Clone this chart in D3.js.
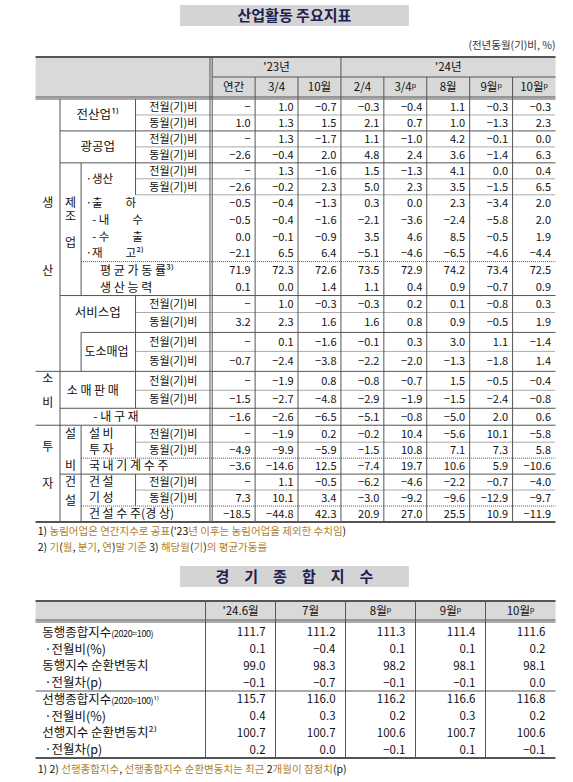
<!DOCTYPE html>
<html><head><meta charset="utf-8">
<script src="https://cdn.jsdelivr.net/npm/d3@7"></script>
<style>body{margin:0;background:#fff}text{font-family:"Noto Sans CJK KR",sans-serif}</style>
</head><body><svg id="c" width="573" height="782"></svg>
<script>
// ---------- data ----------
const colGroups1 = [["'23년",0,3],["'24년",3,8]];
const cols1 = ["연간","3/4","10월","2/4","3/4ᵖ","8월","9월ᵖ","10월ᵖ"];
const rowsMain = ["전산업¹⁾","","광공업","","·생산","","·출　　하","- 내　　수","- 수　　출","·재　　고²⁾","평 균 가 동 률³⁾","생 산 능 력","서비스업","","도소매업","","소 매 판 매","","- 내 구 재","설 비","투 자","국 내 기 계 수 주","건 설","기 성","건 설 수 주(경 상)"];
const rowsSub = ["전월(기)비","동월(기)비","전월(기)비","동월(기)비","전월(기)비","동월(기)비","","","","","","","전월(기)비","동월(기)비","전월(기)비","동월(기)비","전월(기)비","동월(기)비","","전월(기)비","동월(기)비","","전월(기)비","동월(기)비",""];
const values1 = [
["-","1.0","-0.7","-0.3","-0.4","1.1","-0.3","-0.3"],
["1.0","1.3","1.5","2.1","0.7","1.0","-1.3","2.3"],
["-","1.3","-1.7","1.1","-1.0","4.2","-0.1","0.0"],
["-2.6","-0.4","2.0","4.8","2.4","3.6","-1.4","6.3"],
["-","1.3","-1.6","1.5","-1.3","4.1","0.0","0.4"],
["-2.6","-0.2","2.3","5.0","2.3","3.5","-1.5","6.5"],
["-0.5","-0.4","-1.3","0.3","0.0","2.3","-3.4","2.0"],
["-0.5","-0.4","-1.6","-2.1","-3.6","-2.4","-5.8","2.0"],
["0.0","-0.1","-0.9","3.5","4.6","8.5","-0.5","1.9"],
["-2.1","6.5","6.4","-5.1","-4.6","-6.5","-4.6","-4.4"],
["71.9","72.3","72.6","73.5","72.9","74.2","73.4","72.5"],
["0.1","0.0","1.4","1.1","0.4","0.9","-0.7","0.9"],
["-","1.0","-0.3","-0.3","0.2","0.1","-0.8","0.3"],
["3.2","2.3","1.6","1.6","0.8","0.9","-0.5","1.9"],
["-","0.1","-1.6","-0.1","0.3","3.0","1.1","-1.4"],
["-0.7","-2.4","-3.8","-2.2","-2.0","-1.3","-1.8","1.4"],
["-","-1.9","0.8","-0.8","-0.7","1.5","-0.5","-0.4"],
["-1.5","-2.7","-4.8","-2.9","-1.9","-1.5","-2.4","-0.8"],
["-1.6","-2.6","-6.5","-5.1","-0.8","-5.0","2.0","0.6"],
["-","-1.9","0.2","-0.2","10.4","-5.6","10.1","-5.8"],
["-4.9","-9.9","-5.9","-1.5","10.8","7.1","7.3","5.8"],
["-3.6","-14.6","12.5","-7.4","19.7","10.6","5.9","-10.6"],
["-","1.1","-0.5","-6.2","-4.6","-2.2","-0.7","-4.0"],
["7.3","10.1","3.4","-3.0","-9.2","-9.6","-12.9","-9.7"],
["-18.5","-44.8","42.3","20.9","27.0","25.5","10.9","-11.9"]];
const cols2 = ["'24.6월","7월","8월ᵖ","9월ᵖ","10월ᵖ"];
const rows2 = [["동행종합지수","(2020=100)"],["·전월비(%)",""],["동행지수 순환변동치",""],["·전월차(p)",""],["선행종합지수","(2020=100)¹⁾"],["·전월비(%)",""],["선행지수 순환변동치²⁾",""],["·전월차(p)",""]];
const values2 = [
["111.7","111.2","111.3","111.4","111.6"],
["0.1","-0.4","0.1","0.1","0.2"],
["99.0","98.3","98.2","98.1","98.1"],
["-0.1","-0.7","-0.1","-0.1","0.0"],
["115.7","116.0","116.2","116.6","116.8"],
["0.4","0.3","0.2","0.3","0.2"],
["100.7","100.7","100.6","100.7","100.6"],
["0.2","0.0","-0.1","0.1","-0.1"]];

// ---------- layout ----------
const K = 1.111;
const svg = d3.select("#c");
const GR="#555", HB="#d9d9d9", FS=11.5;
const rowW = [16,16,16,16,16,16,17,17,16,17,18,16,17,20,19,20,19,18,17,17,16,16,16,16,16];
const cum=[0]; rowW.forEach(w=>cum.push(cum[cum.length-1]+w));
const ys = d3.scaleLinear().domain([0,cum[cum.length-1]]).range([99,522]);
const rtop=i=>ys(cum[i]), bot=i=>ys(cum[i+1]), mid=i=>(rtop(i)+bot(i))/2;
const x1 = d3.scaleBand().domain(d3.range(8)).range([191,500]);
const line=(xa,ya,xb,yb,o={})=>svg.append("line").attr("x1",xa*K).attr("y1",ya).attr("x2",xb*K).attr("y2",yb)
  .attr("stroke",o.c||GR).attr("stroke-width",o.w||1).attr("stroke-dasharray",o.d?"1,1":null);
const txt=(x,y,s,o={})=>svg.append("text").attr("x",x*K).attr("y",y).attr("dy","0.35em").text(s)
  .attr("font-size",o.fs||FS).attr("text-anchor",o.a||"start").attr("fill",o.c||"#111").attr("font-weight",o.b?"bold":null);
const rect=(x,y,w,h,f)=>svg.append("rect").attr("x",x*K).attr("y",y).attr("width",w*K).attr("height",h).attr("fill",f);

function titleBox(y,s){
  rect(162,y,206,21,"#d4d4d4");
  txt(265,y+10.5,s,{a:"middle",fs:15,b:true,c:"#1d2050"});
}
titleBox(5,"산업활동 주요지표");
txt(500,45,"(전년동월(기)비, %)",{a:"end",fs:10.5,c:"#333"});

// header table 1
rect(32,57,468,41,HB);
colGroups1.forEach(g=>txt((x1(g[1])+x1(g[2]-1)+x1.bandwidth())/2,67,g[0],{a:"middle"}));
cols1.forEach((c,i)=>txt(x1(i)+x1.bandwidth()/2,87,c,{a:"middle"}));
line(32,57,500,57,{w:2});
line(191,77,500,77);
line(32,97,500,97); line(32,99,500,99);
line(32,522,500,522,{w:2});
line(189,57,189,522); line(191,57,191,522);
d3.range(1,8).forEach(i=>line(x1(i),i===3?57:77,x1(i),522));
line(54,99,54,522);
[[4,11],[14,15],[19,24]].forEach(s=>line(73,rtop(s[0]),73,bot(s[1])));
[[0,5],[12,17],[19,20],[22,23]].forEach(s=>line(122,rtop(s[0]),122,bot(s[1])));
const seps=[[0,122,1],[1,54,0],[2,122,1],[3,54,0],[4,122,1],[5,122,1],[9,73,1],[11,54,0],[12,122,1],[13,73,0],[14,122,1],[15,32,0],
 [16,122,1],[17,54,0],[18,32,0],[19,122,1],[20,73,1],[21,54,0],[22,122,1],[23,73,1]];
seps.forEach(s=>line(s[1],bot(s[0]),500,bot(s[0]),{d:s[2]}));
const at=f=>{const i=Math.floor(f);return ys(cum[i]+rowW[i]*(f%1||0.5));};
[["생",6],["산",10],["소",16.4],["비",17.7],["투",20.3],["자",22.6]].forEach(a=>txt(43,at(a[1]),a[0],{a:"middle",fs:12}));
[["제",6],["조",7.3],["업",8.9],["설",19.5],["비",21],["건",22],["설",23.7]].forEach(a=>txt(63.5,at(a[1]),a[0],{a:"middle",fs:12}));
txt(88,bot(0),"전산업¹⁾",{a:"middle",fs:12.5});
txt(88,bot(2),"광공업",{a:"middle",fs:12.5});
txt(77,bot(4),"·생산");
txt(88,bot(12),"서비스업",{a:"middle",fs:12.5});
txt(76,bot(14),"도소매업",{fs:12});
txt(60,bot(16),"소 매 판 매",{fs:12});
[6,7,8,9].forEach(i=>txt(i===7||i===8?83:77,mid(i),rowsMain[i]));
[10,11].forEach(i=>txt(90,mid(i),rowsMain[i],{fs:12}));
txt(84,mid(18),rowsMain[18],{fs:12});
[19,20,21,22,23,24].forEach(i=>txt(80,mid(i),rowsMain[i],{fs:12}));
rowsSub.forEach((s,i)=>{ if(s) txt(156,mid(i),s,{a:"middle",fs:11}); });
values1.forEach((r,i)=>r.forEach((v,j)=>txt(x1(j)+x1.bandwidth()-4,mid(i),v.replace("-","−"),{a:"end",fs:11})));

const fn=(y,parts)=>{const t=svg.append("text").attr("x",34*K).attr("y",y).attr("dy","0.35em").attr("font-size",10.5);
  parts.forEach(p=>t.append("tspan").text(p[0]).attr("fill",p[1]?"#b0802c":"#111"));};
fn(531,[["1) ",0],["농림어업은 연간지수로 공표",1],["('23",0],["년 이후는 농림어업을 제외한 수치임",1],[")",0]]);
fn(547,[["2) ",0],["기",1],["(",0],["월",1],[", ",0],["분기",1],[", ",0],["연",1],[")",0],["말 기준 ",1],["3) ",0],["해당월",1],["(",0],["기",1],[")",0],["의 평균가동률",1]]);

// ---------- table 2 ----------
titleBox(566,"경　기　종　합　지　수");
const x2 = d3.scaleBand().domain(d3.range(5)).range([185,500]);
const y2 = d3.scaleBand().domain(d3.range(8)).range([624,758]);
rect(32,601,468,20,HB);
line(32,601,500,601,{w:2}); line(32,620,500,620); line(32,622,500,622);
line(32,758,500,758,{w:2}); line(32,y2(4),500,y2(4));
d3.range(5).forEach(i=>line(x2(i),601,x2(i),758));
cols2.forEach((c,i)=>txt(x2(i)+x2.bandwidth()/2,611,c,{a:"middle"}));
rows2.forEach((r,i)=>{
  const cy=y2(i)+y2.bandwidth()/2;
  const t=svg.append("text").attr("x",(r[0][0]==="·"?40:38)*K).attr("y",cy).attr("dy","0.35em").attr("font-size",12.5).attr("fill","#111");
  t.append("tspan").text(r[0]); if(r[1]) t.append("tspan").text(r[1]).attr("font-size",9).attr("letter-spacing","-0.4");
});
values2.forEach((r,i)=>r.forEach((v,j)=>txt(x2(j)+x2.bandwidth()-9,y2(i)+y2.bandwidth()/2,v.replace("-","−"),{a:"end",fs:11.5})));
const t3=svg.append("text").attr("x",34*K).attr("y",769).attr("dy","0.35em").attr("font-size",10.5);
[["1) 2) ",0],["선행종합지수",1],[", ",0],["선행종합지수 순환변동치는 최근 ",1],["2",0],["개월이 잠정치",1],["(p)",0]].forEach(p=>t3.append("tspan").text(p[0]).attr("fill",p[1]?"#b0802c":"#111"));
</script></body></html>
